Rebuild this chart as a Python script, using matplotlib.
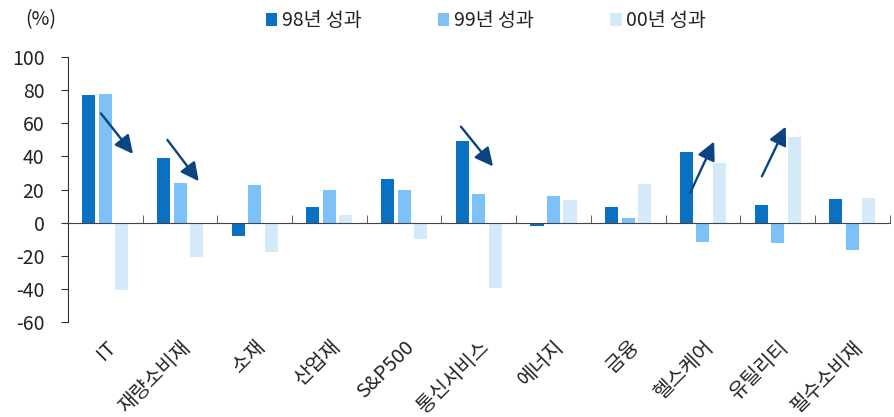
import numpy as np
import matplotlib
matplotlib.use('Agg')
import matplotlib.pyplot as plt
from matplotlib.patches import Patch

plt.rcParams['font.family'] = ['Noto Sans CJK KR', 'DejaVu Sans']
plt.rcParams['axes.unicode_minus'] = False

# Sector returns (%)
sectors = ['IT', '재량소비재', '소재', '산업재', 'S&P500', '통신서비스',
           '에너지', '금융', '헬스케어', '유틸리티', '필수소비재']
perf_98 = [77, 39, -8, 9.5, 26.5, 49.5, -2, 9.5, 42.5, 10.5, 14]
perf_99 = [78, 24, 23, 20, 19.5, 17.5, 16, 2.5, -11.5, -12.5, -16.5]
perf_00 = [-40.5, -20.5, -17.5, 4.5, -10, -39.5, 13.5, 23.5, 36, 51.5, 15]
series_names = ['98년 성과', '99년 성과', '00년 성과']
colors = ['#0A70C2', '#7DC1F9', '#D5EAF9']

# Trend arrows: (x start, y start, x end, y end) in category / % units
arrows = [(-0.06, 66, 0.37, 41.5),
          (0.83, 50, 1.25, 25),
          (4.76, 58, 5.19, 34),
          (7.83, 18, 8.15, 49),
          (8.79, 28, 9.11, 58)]

fig = plt.figure(figsize=(8.95, 4.17), dpi=100)
ax = fig.add_axes([0.076, 0.228, 0.918, 0.635])

x = np.arange(len(sectors))
w = 0.175
step = 0.221
for k, vals in enumerate([perf_98, perf_99, perf_00]):
    ax.bar(x + (k - 1) * step, vals, width=w, color=colors[k], zorder=2)

for x0, y0, x1, y1 in arrows:
    ax.annotate('', xy=(x1, y1), xytext=(x0, y0),
                arrowprops=dict(arrowstyle='-|>,head_length=1.1,head_width=0.55',
                                color='#0B4480', lw=1.7, shrinkA=0, shrinkB=0),
                zorder=3)

ax.set_xlim(-0.5, len(sectors) - 0.5)
ax.set_ylim(-60, 100)
ax.set_yticks(np.arange(-60, 101, 20))
ax.tick_params(axis='y', direction='out', length=5, labelsize=14, color='#333333',
               labelcolor='#222222', pad=12)

ax.spines['top'].set_visible(False)
ax.spines['right'].set_visible(False)
ax.spines['bottom'].set_position(('data', 0))
ax.spines['bottom'].set_color('#444444')
ax.spines['left'].set_color('#333333')

ax.set_xticks(x)
ax.set_xticklabels(sectors, rotation=45, ha='right', rotation_mode='anchor',
                   fontsize=14.5, color='#222222')
ax.tick_params(axis='x', which='major', length=0, pad=82)
ax.set_xticks(np.arange(0.5, len(sectors) - 0.5 + 1e-9, 1), minor=True)
ax.tick_params(axis='x', which='minor', direction='in', length=6, color='#444444')

fig.text(0.028, 0.952, '(%)', fontsize=14, va='center', color='#222222')

handles = [Patch(facecolor=c) for c in colors]
fig.legend(handles, series_names, loc='center', bbox_to_anchor=(0.543, 0.950),
           ncol=3, frameon=False, fontsize=14, handlelength=0.6, handleheight=0.6,
           handletextpad=0.25, columnspacing=3.9, labelcolor='#222222')

fig.savefig('out.png', dpi=100)
